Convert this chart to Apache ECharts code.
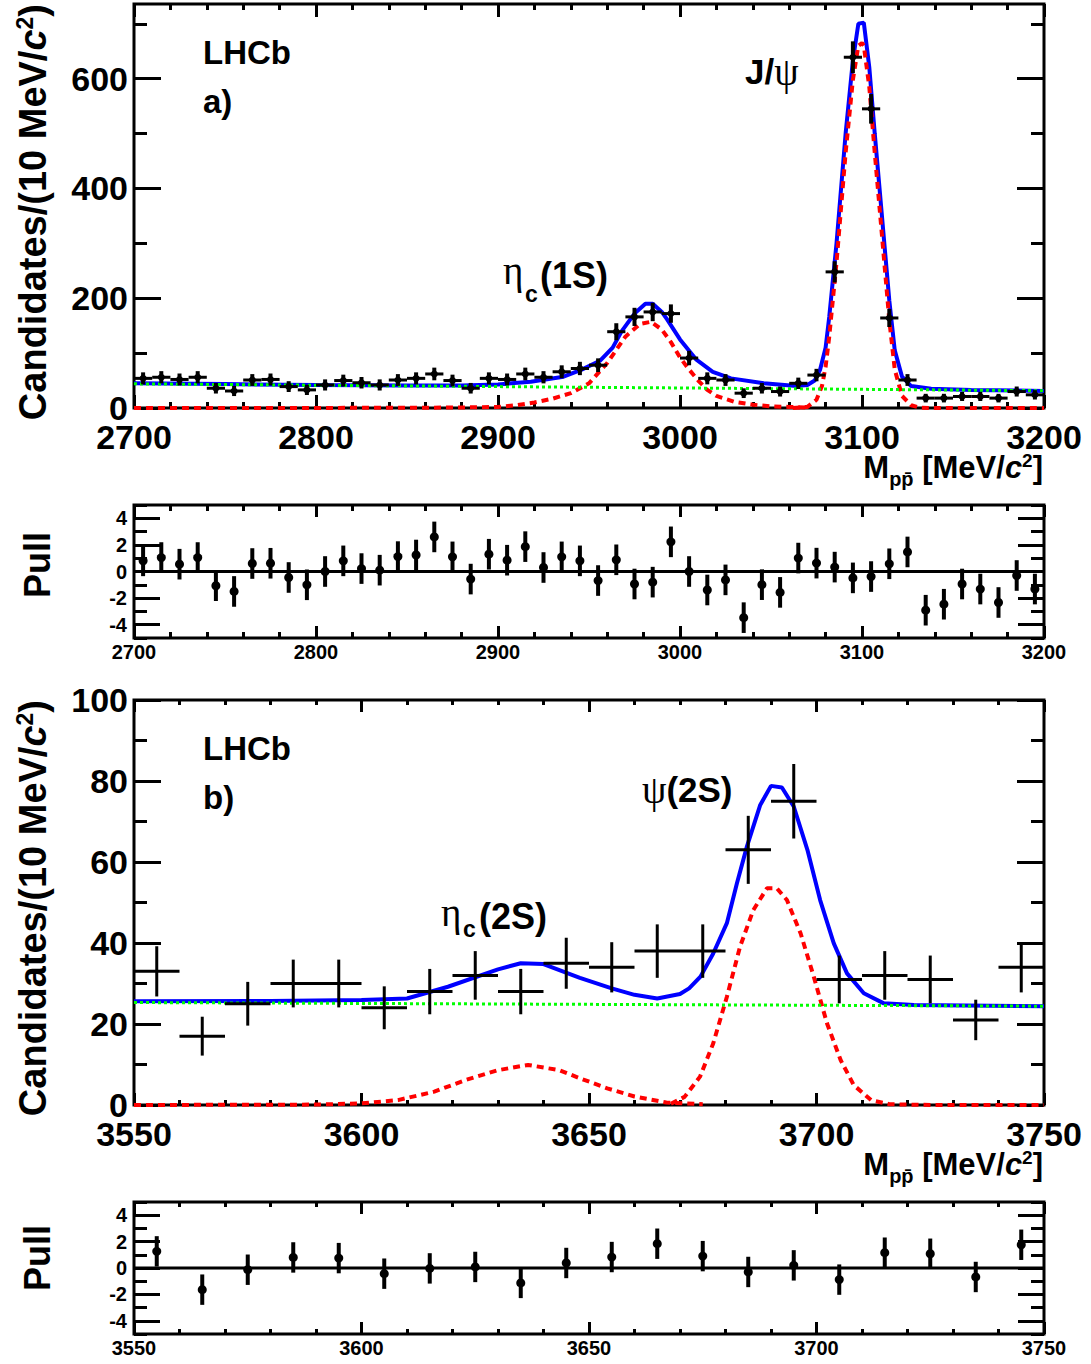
<!DOCTYPE html>
<html><head><meta charset="utf-8">
<script src="https://cdn.jsdelivr.net/npm/echarts@6/dist/echarts.min.js"></script>
<style>html,body{margin:0;padding:0;background:#fff}#c{width:1091px;height:1364px}</style>
</head><body><div id="c"></div>
<script>
// ---------------- DATA ----------------
// Panel a): bin centres [MeV/c^2], candidates per 10 MeV, errors, pulls
const massA = [2705,2715,2725,2735,2745,2755,2765,2775,2785,2795,
  2805,2815,2825,2835,2845,2855,2865,2875,2885,2895,
  2905,2915,2925,2935,2945,2955,2965,2975,2985,2995,
  3005,3015,3025,3035,3045,3055,3065,3075,3085,3095,
  3105,3115,3125,3135,3145,3155,3165,3175,3185,3195];
const countsA = [54,56,52,56,36,31,51,52,39,33,
  42,50,46,42,51,54,62,50,36,54,
  52,62,56,66,72,78,139,166,175,172,
  91,54,51,27,36,30,45,60,248,639,
  545,164,51,18,18,21,21,18,30,24];
const errA = [7.3,7.5,7.2,7.5,6.0,5.6,7.1,7.2,6.2,5.7,
  6.5,7.1,6.8,6.5,7.1,7.3,7.9,7.1,6.0,7.3,
  7.2,7.9,7.5,8.1,8.5,8.8,11.8,12.9,13.2,13.1,
  9.5,7.3,7.1,5.2,6.0,5.5,6.7,7.7,15.7,25.3,
  23.3,12.8,7.1,4.2,4.2,4.6,4.6,4.2,5.5,4.9];
const pullA = [0.8,1.05,0.55,1.05,-1.07,-1.5,0.6,0.62,-0.45,-1.0,
  0.0,0.8,0.22,0.1,1.12,1.24,2.6,1.1,-0.57,1.3,
  0.85,1.87,0.3,1.1,0.8,-0.68,0.88,-0.94,-0.8,2.23,
  0.0,-1.39,-0.63,-3.47,-0.99,-1.57,1.01,0.63,0.33,-0.48,
  -0.38,0.58,1.47,-2.91,-2.46,-0.94,-1.32,-2.33,-0.3,-1.32];

// Fit curves panel a): [mass, candidates]
const totalFitA = [[2700,45],[2750,43.5],[2800,42],[2850,41],[2880,41],[2900,43],[2918,48],[2936,57],[2946,70],[2956,86],[2963,110],[2968,140],[2975,172],[2981,190],[2985,190],[2990,175],[2993,161],[3000,125],[3009,88],[3018,66],[3028,54],[3046,45],[3064,40],[3070,42],[3074,50],[3077,70],[3080,110],[3082,166],[3086,300],[3091,500],[3095,633],[3098,700],[3101,702],[3104,621],[3107,500],[3111,348],[3115,196],[3118,105],[3122,57],[3127,40],[3138,35],[3160,33],[3200,31]];
const etac1SFitA = [[2700,0],[2850,0.3],[2880,1],[2900,2],[2910,5],[2920,10],[2930,17],[2940,27],[2950,45],[2960,82],[2970,130],[2978,153],[2984,157],[2990,143],[2995,120],[3000,92],[3005,70],[3010,50],[3015,33],[3020,22],[3030,11],[3040,6],[3050,3],[3060,2],[3070,1]];
const jpsiFitA = [[3062,0],[3070,2],[3075,15],[3078,40],[3080,75],[3082,130],[3086,265],[3091,465],[3095,598],[3098,660],[3100,665],[3101,660],[3104,585],[3107,465],[3111,313],[3115,160],[3118,70],[3122,22],[3127,5],[3132,0.5],[3140,0],[3200,0]];
const bkgFitA = [[2700,44],[2800,41.5],[2900,39],[3000,36.5],[3100,34],[3200,31.5]];

// Panel b)
const massB = [3555,3565,3575,3585,3595,3605,3615,3625,3635,3645,
  3655,3665,3675,3685,3695,3705,3715,3725,3735,3745];
const countsB = [33,17,25,30,30,24,28,32,28,35,34,38,38,63,75,31,32,31,21,34];
const errB = [6.2,4.8,5.4,5.9,5.9,5.3,5.6,6.0,5.6,6.3,6.2,6.6,6.6,8.4,9.2,5.9,6.0,5.9,5.0,6.2];
const pullB = [1.26,-1.64,-0.13,0.8,0.75,-0.43,-0.03,0.08,-1.13,0.38,
  0.83,1.84,0.9,-0.3,0.2,-0.88,1.16,1.08,-0.68,1.76];

const totalFitB = [[3550,25.6],[3580,25.7],[3600,25.9],[3610,26.3],[3619,29.2],[3630,33.5],[3635,35],[3640,34.8],[3648,31.4],[3655,28.8],[3660,27.2],[3665,26.3],[3670,27.4],[3672,28.8],[3674.5,31.7],[3677.3,37.4],[3680.3,44.9],[3682.5,54.7],[3684.7,63.8],[3687.6,74],[3690,78.8],[3692.4,78.4],[3695,73.7],[3698,63],[3700.8,50.6],[3703.8,39.9],[3706.7,32.5],[3710.4,27.6],[3714.8,25.1],[3721.4,24.7],[3750,24.4]];
const etac2SFitB = [[3550,0],[3590,0.1],[3600,0.4],[3608,1.2],[3616,3.3],[3623,6.2],[3630,8.6],[3636.6,9.9],[3643.5,8.6],[3648,6.6],[3654,4.1],[3660,2.1],[3667,0.6],[3675,0.2]];
const psi2SFitB = [[3668,0.3],[3671,2],[3674.4,7],[3677.3,15.2],[3680.3,26.7],[3683.2,39.1],[3686.1,48.1],[3689.1,53.5],[3691.3,53.5],[3693.5,50.6],[3696.5,42.4],[3699.4,31.7],[3702.3,20.2],[3705.3,11.1],[3708.2,4.9],[3712,1.2],[3716,0.2],[3725,0],[3750,0]];
const bkgFitB = [[3550,25.3],[3650,24.85],[3750,24.4]];

// Axis ticks / labels
const xTicksA = [2700,2800,2900,3000,3100,3200];
const yTicksA = [0,200,400,600];
const yTicksPull = [-4,-2,0,2,4];
const xTicksB = [3550,3600,3650,3700,3750];
const yTicksB = [0,20,40,60,80,100];
const BIN_HALF = 5;   // half bin width (10 MeV bins)
const PULL_ERR = 1;

// ---------------- HELPERS ----------------
const SANS = "'Liberation Sans', Arial, Helvetica, sans-serif";
const SERIF = "'Liberation Serif', 'DejaVu Serif', serif";
function stepTicks(a, b, s, skip) {
  const out = [];
  for (let v = a; v <= b + 1e-9; v += s) {
    const r = Math.round(v * 1000) / 1000;
    if (skip.indexOf(r) < 0) out.push(r);
  }
  return out;
}
const xAxes = [], yAxes = [];
function addAxes(list, dim, grid, min, max, major, minor, majLen, minLen, label) {
  const mk = (pos, ticks, len, lab) => ({
    type: 'value', gridIndex: grid, position: pos, min: min, max: max,
    axisLine: {show: false, onZero: false}, splitLine: {show: false}, axisPointer: {show: false},
    axisTick: {show: true, inside: true, length: len, customValues: ticks,
      lineStyle: {color: '#000', width: 3}},
    axisLabel: lab ? Object.assign({show: true, customValues: major, color: '#000',
      fontFamily: SANS, fontWeight: 'bold', formatter: v => String(v)}, lab) : {show: false}
  });
  const p1 = dim === 'x' ? 'bottom' : 'left';
  const p2 = dim === 'x' ? 'top' : 'right';
  list.push(mk(p1, major, majLen, label), mk(p1, minor, minLen, null),
            mk(p2, major, majLen, null), mk(p2, minor, minLen, null));
}
// grid 0: panel a
addAxes(xAxes, 'x', 0, 2700, 3200, xTicksA, stepTicks(2700, 3200, 20, xTicksA), 13, 6, {fontSize: 34, lineHeight: 28, margin: 15});
addAxes(yAxes, 'y', 0, 0, 736, yTicksA, [100,300,500,700], 27, 13, {fontSize: 34, lineHeight: 28, margin: 6});
// grid 1: pull a
addAxes(xAxes, 'x', 1, 2700, 3200, xTicksA, stepTicks(2700, 3200, 20, xTicksA), 12, 6, {fontSize: 20, lineHeight: 18, margin: 5});
addAxes(yAxes, 'y', 1, -5, 5, yTicksPull, [-5,-3,-1,1,3,5], 26, 13, {fontSize: 20, lineHeight: 18, margin: 7});
// grid 2: panel b
addAxes(xAxes, 'x', 2, 3550, 3750, xTicksB, stepTicks(3550, 3750, 10, xTicksB), 12, 5, {fontSize: 34, lineHeight: 28, margin: 15});
addAxes(yAxes, 'y', 2, 0, 100, yTicksB, [10,30,50,70,90], 27, 13, {fontSize: 34, lineHeight: 28, margin: 6});
// grid 3: pull b
addAxes(xAxes, 'x', 3, 3550, 3750, xTicksB, stepTicks(3550, 3750, 10, xTicksB), 12, 5, {fontSize: 20, lineHeight: 18, margin: 5});
addAxes(yAxes, 'y', 3, -5, 5, yTicksPull, [-5,-3,-1,1,3,5], 26, 13, {fontSize: 20, lineHeight: 18, margin: 7});

function errRender(lw, r) {
  return function (params, api) {
    const x = api.value(0), y = api.value(1), e = api.value(2), hw = api.value(3);
    const c = api.coord([x, y]);
    const ch = [];
    if (hw > 0) {
      const l = api.coord([x - hw, y]), rr = api.coord([x + hw, y]);
      ch.push({type: 'line', shape: {x1: l[0], y1: c[1], x2: rr[0], y2: c[1]},
        style: {stroke: '#000', lineWidth: lw}});
    }
    const t = api.coord([x, y + e]), b = api.coord([x, y - e]);
    ch.push({type: 'line', shape: {x1: c[0], y1: t[1], x2: c[0], y2: b[1]},
      style: {stroke: '#000', lineWidth: lw + (r ? 1 : 0), lineCap: r ? 'square' : 'butt'}});
    if (r) ch.push({type: 'circle', shape: {cx: c[0], cy: c[1], r: r}, style: {fill: '#000'}});
    return {type: 'group', children: ch};
  };
}
function curve(data, g, color, width, type, z) {
  return {type: 'line', xAxisIndex: 4 * g, yAxisIndex: 4 * g, data: data, showSymbol: false,
    symbol: 'none', smooth: false, z: z, silent: true,
    lineStyle: {color: color, width: width, type: type}};
}
function points(mass, vals, errs, half, g, lw, r) {
  return {type: 'custom', xAxisIndex: 4 * g, yAxisIndex: 4 * g, z: 10, silent: true,
    data: mass.map((m, i) => [m, vals[i], Array.isArray(errs) ? errs[i] : errs, half]),
    encode: {x: 0, y: 1}, renderItem: errRender(lw, r)};
}

const series = [
  curve(totalFitA, 0, '#0000ff', 4, 'solid', 3),
  curve(etac1SFitA, 0, '#ff0000', 4, [7, 5], 4),
  curve(jpsiFitA, 0, '#ff0000', 4, [7, 5], 4),
  curve(bkgFitA, 0, '#00ff00', 3, [3, 3], 5),
  points(massA, countsA, errA, BIN_HALF, 0, 3, 3.5),
  curve([[2700, 0], [3200, 0]], 1, '#000', 3, 'solid', 3),
  points(massA, pullA, PULL_ERR, 0, 1, 3, 4.5),
  curve(totalFitB, 2, '#0000ff', 4, 'solid', 3),
  curve(etac2SFitB, 2, '#ff0000', 4, [7, 5], 4),
  curve(psi2SFitB, 2, '#ff0000', 4, [7, 5], 4),
  curve(bkgFitB, 2, '#00ff00', 3, [3, 3], 5),
  points(massB, countsB, errB, BIN_HALF, 2, 3, 0),
  curve([[3550, 0], [3750, 0]], 3, '#000', 3, 'solid', 3),
  points(massB, pullB, PULL_ERR, 0, 3, 3, 4.5)
];

const gridBase = {show: true, borderColor: '#000', borderWidth: 3, backgroundColor: 'transparent', containLabel: false};
const grids = [
  Object.assign({left: 134, top: 4, width: 910, height: 404}, gridBase),
  Object.assign({left: 134, top: 505, width: 910, height: 133}, gridBase),
  Object.assign({left: 134, top: 700, width: 910, height: 405}, gridBase),
  Object.assign({left: 134, top: 1202, width: 910, height: 132}, gridBase)
];

function txt(x, y, text, size, opts) {
  return {type: 'text', x: x, y: y, silent: true, z: 100, style: Object.assign({
    text: text, fill: '#000', fontSize: size, fontWeight: 'bold', fontFamily: SANS,
    align: 'left', verticalAlign: 'middle', textAlign: 'left', textVerticalAlign: 'middle'}, opts || {})};
}
function richTxt(x, y, text, rich, align, rot) {
  return {type: 'text', x: x, y: y, rotation: rot || 0, silent: true, z: 100, style: {
    text: text, rich: rich, fill: '#000', align: align, verticalAlign: 'middle',
    textAlign: align, textVerticalAlign: 'middle'}};
}
const titleRich = {
  m: {fontSize: 38, fontWeight: 'bold', fontFamily: SANS, lineHeight: 44, verticalAlign: 'middle', color: '#000'},
  i: {fontSize: 38, fontWeight: 'bold', fontStyle: 'italic', fontFamily: SANS, lineHeight: 44, verticalAlign: 'middle', color: '#000'},
  s: {fontSize: 23, fontWeight: 'bold', fontFamily: SANS, height: 28, verticalAlign: 'top', color: '#000'}
};
const xRich = {
  m: {fontSize: 31, fontWeight: 'bold', fontFamily: SANS, lineHeight: 30, verticalAlign: 'middle', color: '#000'},
  i: {fontSize: 31, fontWeight: 'bold', fontStyle: 'italic', fontFamily: SANS, lineHeight: 30, verticalAlign: 'middle', color: '#000'},
  b: {fontSize: 20, fontWeight: 'bold', fontFamily: SANS, height: 6, verticalAlign: 'bottom', color: '#000'},
  s: {fontSize: 19, fontWeight: 'bold', fontFamily: SANS, height: 16, verticalAlign: 'top', color: '#000'}
};
const yTitle = '{m|Candidates/(10 MeV/}{i|c}{s|2}{m|)}';
const xTitle = '{m|M}{b|pp\u0304}{m| [MeV/}{i|c}{s|2}{m|]}';
const greekRich = {
  b: {fontSize: 35, fontWeight: 'bold', fontFamily: SANS, verticalAlign: 'middle', color: '#000'},
  g: {fontSize: 39, fontWeight: 'normal', fontFamily: SERIF, verticalAlign: 'middle', color: '#000'}
};

const graphics = [
  // y titles
  richTxt(33, 4, yTitle, titleRich, 'right', Math.PI / 2),
  richTxt(33, 700, yTitle, titleRich, 'right', Math.PI / 2),
  {type: 'text', x: 37, y: 565, rotation: Math.PI / 2, silent: true, style: {text: 'Pull', fill: '#000', fontSize: 36, fontWeight: 'bold', fontFamily: SANS, align: 'center', verticalAlign: 'middle', textAlign: 'center', textVerticalAlign: 'middle'}},
  {type: 'text', x: 37, y: 1258, rotation: Math.PI / 2, silent: true, style: {text: 'Pull', fill: '#000', fontSize: 36, fontWeight: 'bold', fontFamily: SANS, align: 'center', verticalAlign: 'middle', textAlign: 'center', textVerticalAlign: 'middle'}},
  // x titles
  richTxt(1043, 467, xTitle, xRich, 'right'),
  richTxt(1043, 1164, xTitle, xRich, 'right'),
  // panel a labels
  txt(203, 52, 'LHCb', 33),
  txt(203, 101, 'a)', 33),
  richTxt(745, 71, '{b|J/}{g|\u03C8}', greekRich, 'left'),
  txt(503, 270, '\u03B7', 39, {fontFamily: SERIF, fontWeight: 'normal'}),
  txt(525, 294, 'c', 23),
  txt(540, 275, '(1S)', 36),
  // panel b labels
  txt(203, 748, 'LHCb', 33),
  txt(203, 797, 'b)', 33),
  richTxt(642, 789, '{g|\u03C8}{b|(2S)}', greekRich, 'left'),
  txt(441, 912, '\u03B7', 39, {fontFamily: SERIF, fontWeight: 'normal'}),
  txt(463, 929, 'c', 23),
  txt(479, 916, '(2S)', 36)
];

const chart = echarts.init(document.getElementById('c'), null, {renderer: 'svg', width: 1091, height: 1364});
chart.setOption({
  animation: false,
  backgroundColor: '#fff',
  grid: grids,
  xAxis: xAxes,
  yAxis: yAxes,
  series: series,
  graphic: graphics
});
</script>
</body></html>
